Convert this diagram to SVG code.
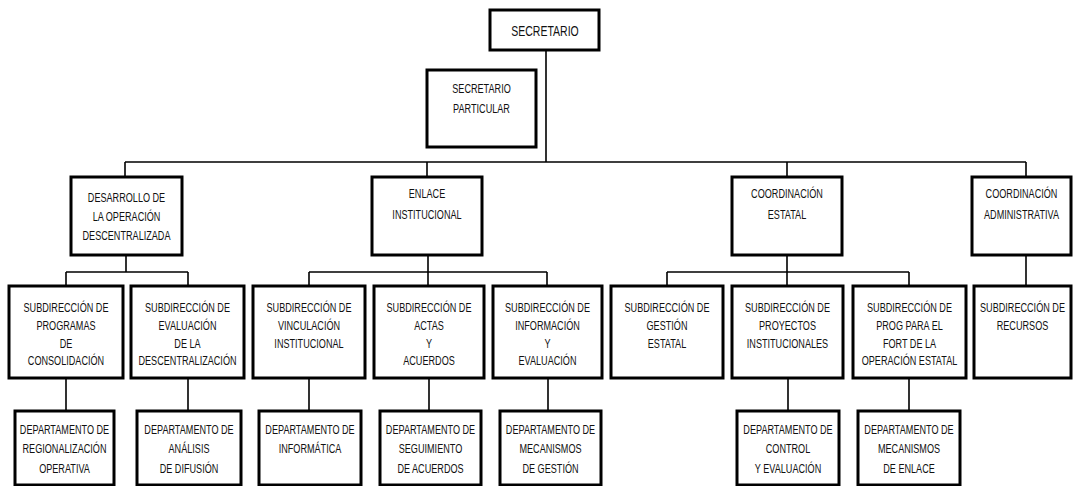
<svg xmlns="http://www.w3.org/2000/svg" width="1073" height="486" viewBox="0 0 1073 486">
  <style>
    .box { fill: #ffffff; stroke: #000000; stroke-width: 3; }
    .lnk { fill: none; stroke: #000000; stroke-width: 1.6; }
    .t { font-family: "Liberation Sans", Arial, sans-serif; font-size: 13px; fill: #111111; text-anchor: middle; }
    .big { font-size: 15px; }
  </style>
  <rect width="1073" height="486" fill="#ffffff"/>

  <!-- connectors -->
  <g id="connectors" class="lnk">
    <path d="M546 50V162M125 162H1026M125 162V177M427 162V177M787 162V177M1026 162V177"/>
    <path d="M126 255V272M66 272H188M66 272V286M188 272V286"/>
    <path d="M428 255V272M309 272H547M309 272V286M428 272V286M547 272V286"/>
    <path d="M787 255V286M667 272H909M667 272V286M909 272V286"/>
    <path d="M1026 255V286"/>
    <path d="M66 378V411M188 378V411M309 378V411M429 378V411M548 378V411M788 378V411M909 378V411"/>
  </g>

  <!-- level 0 -->
  <g id="secretario">
    <rect class="box" x="490" y="10" width="109" height="40"/>
    <text class="t big" transform="matrix(0.7 0 0 1 545 0)"><tspan x="0" y="36">SECRETARIO</tspan></text>
  </g>
  <g id="secretario-particular">
    <rect class="box" x="427" y="70" width="109" height="77"/>
    <text class="t" transform="matrix(0.7 0 0 1 481.5 0)"><tspan x="0" y="93">SECRETARIO</tspan><tspan x="0" y="113">PARTICULAR</tspan></text>
  </g>

  <!-- level 1 -->
  <g id="desarrollo">
    <rect class="box" x="71" y="177" width="111" height="78"/>
    <text class="t" transform="matrix(0.7 0 0 1 126.5 0)"><tspan x="0" y="202">DESARROLLO DE</tspan><tspan x="0" y="221">LA OPERACIÓN</tspan><tspan x="0" y="240">DESCENTRALIZADA</tspan></text>
  </g>
  <g id="enlace">
    <rect class="box" x="372" y="177" width="110" height="78"/>
    <text class="t" transform="matrix(0.7 0 0 1 427 0)"><tspan x="0" y="198">ENLACE</tspan><tspan x="0" y="219">INSTITUCIONAL</tspan></text>
  </g>
  <g id="coord-estatal">
    <rect class="box" x="732" y="177" width="110" height="78"/>
    <text class="t" transform="matrix(0.7 0 0 1 787 0)"><tspan x="0" y="198">COORDINACIÓN</tspan><tspan x="0" y="219">ESTATAL</tspan></text>
  </g>
  <g id="coord-admin">
    <rect class="box" x="972" y="177" width="99" height="78"/>
    <text class="t" transform="matrix(0.7 0 0 1 1021.5 0)"><tspan x="0" y="198">COORDINACIÓN</tspan><tspan x="0" y="219">ADMINISTRATIVA</tspan></text>
  </g>

  <!-- level 2 -->
  <g id="sub-programas">
    <rect class="box" x="9" y="286" width="114" height="92"/>
    <text class="t" transform="matrix(0.7 0 0 1 66 0)"><tspan x="0" y="312">SUBDIRECCIÓN DE</tspan><tspan x="0" y="330">PROGRAMAS</tspan><tspan x="0" y="348">DE</tspan><tspan x="0" y="365">CONSOLIDACIÓN</tspan></text>
  </g>
  <g id="sub-evaluacion">
    <rect class="box" x="131" y="286" width="113" height="92"/>
    <text class="t" transform="matrix(0.7 0 0 1 187.5 0)"><tspan x="0" y="312">SUBDIRECCIÓN DE</tspan><tspan x="0" y="330">EVALUACIÓN</tspan><tspan x="0" y="348">DE LA</tspan><tspan x="0" y="365">DESCENTRALIZACIÓN</tspan></text>
  </g>
  <g id="sub-vinculacion">
    <rect class="box" x="253" y="286" width="112" height="92"/>
    <text class="t" transform="matrix(0.7 0 0 1 309 0)"><tspan x="0" y="312">SUBDIRECCIÓN DE</tspan><tspan x="0" y="330">VINCULACIÓN</tspan><tspan x="0" y="348">INSTITUCIONAL</tspan></text>
  </g>
  <g id="sub-actas">
    <rect class="box" x="374" y="286" width="110" height="92"/>
    <text class="t" transform="matrix(0.7 0 0 1 429 0)"><tspan x="0" y="312">SUBDIRECCIÓN DE</tspan><tspan x="0" y="330">ACTAS</tspan><tspan x="0" y="348">Y</tspan><tspan x="0" y="365">ACUERDOS</tspan></text>
  </g>
  <g id="sub-informacion">
    <rect class="box" x="493" y="286" width="109" height="92"/>
    <text class="t" transform="matrix(0.7 0 0 1 547.5 0)"><tspan x="0" y="312">SUBDIRECCIÓN DE</tspan><tspan x="0" y="330">INFORMACIÓN</tspan><tspan x="0" y="348">Y</tspan><tspan x="0" y="365">EVALUACIÓN</tspan></text>
  </g>
  <g id="sub-gestion">
    <rect class="box" x="611" y="286" width="112" height="92"/>
    <text class="t" transform="matrix(0.7 0 0 1 667 0)"><tspan x="0" y="312">SUBDIRECCIÓN DE</tspan><tspan x="0" y="330">GESTIÓN</tspan><tspan x="0" y="348">ESTATAL</tspan></text>
  </g>
  <g id="sub-proyectos">
    <rect class="box" x="732" y="286" width="111" height="92"/>
    <text class="t" transform="matrix(0.7 0 0 1 787.5 0)"><tspan x="0" y="312">SUBDIRECCIÓN DE</tspan><tspan x="0" y="330">PROYECTOS</tspan><tspan x="0" y="348">INSTITUCIONALES</tspan></text>
  </g>
  <g id="sub-prog-fort">
    <rect class="box" x="853" y="286" width="113" height="92"/>
    <text class="t" transform="matrix(0.7 0 0 1 909.5 0)"><tspan x="0" y="312">SUBDIRECCIÓN DE</tspan><tspan x="0" y="330">PROG PARA EL</tspan><tspan x="0" y="348">FORT DE LA</tspan><tspan x="0" y="365">OPERACIÓN ESTATAL</tspan></text>
  </g>
  <g id="sub-recursos">
    <rect class="box" x="974" y="286" width="97" height="92"/>
    <text class="t" transform="matrix(0.7 0 0 1 1022.5 0)"><tspan x="0" y="312">SUBDIRECCIÓN DE</tspan><tspan x="0" y="330">RECURSOS</tspan></text>
  </g>

  <!-- level 3 -->
  <g id="dep-regionalizacion">
    <rect class="box" x="15" y="411" width="99" height="74"/>
    <text class="t" transform="matrix(0.7 0 0 1 64.5 0)"><tspan x="0" y="434">DEPARTAMENTO DE</tspan><tspan x="0" y="453.5">REGIONALIZACIÓN</tspan><tspan x="0" y="473">OPERATIVA</tspan></text>
  </g>
  <g id="dep-analisis">
    <rect class="box" x="137" y="411" width="104" height="74"/>
    <text class="t" transform="matrix(0.7 0 0 1 189 0)"><tspan x="0" y="434">DEPARTAMENTO DE</tspan><tspan x="0" y="453.5">ANÁLISIS</tspan><tspan x="0" y="473">DE DIFUSIÓN</tspan></text>
  </g>
  <g id="dep-informatica">
    <rect class="box" x="259" y="411" width="102" height="74"/>
    <text class="t" transform="matrix(0.7 0 0 1 310 0)"><tspan x="0" y="434">DEPARTAMENTO DE</tspan><tspan x="0" y="453.5">INFORMÁTICA</tspan></text>
  </g>
  <g id="dep-seguimiento">
    <rect class="box" x="380" y="411" width="101" height="74"/>
    <text class="t" transform="matrix(0.7 0 0 1 430.5 0)"><tspan x="0" y="434">DEPARTAMENTO DE</tspan><tspan x="0" y="453.5">SEGUIMIENTO</tspan><tspan x="0" y="473">DE ACUERDOS</tspan></text>
  </g>
  <g id="dep-mecanismos-gestion">
    <rect class="box" x="500" y="411" width="101" height="74"/>
    <text class="t" transform="matrix(0.7 0 0 1 550.5 0)"><tspan x="0" y="434">DEPARTAMENTO DE</tspan><tspan x="0" y="453.5">MECANISMOS</tspan><tspan x="0" y="473">DE GESTIÓN</tspan></text>
  </g>
  <g id="dep-control">
    <rect class="box" x="737" y="411" width="102" height="74"/>
    <text class="t" transform="matrix(0.7 0 0 1 788 0)"><tspan x="0" y="434">DEPARTAMENTO DE</tspan><tspan x="0" y="453.5">CONTROL</tspan><tspan x="0" y="473">Y EVALUACIÓN</tspan></text>
  </g>
  <g id="dep-mecanismos-enlace">
    <rect class="box" x="858" y="411" width="102" height="74"/>
    <text class="t" transform="matrix(0.7 0 0 1 909 0)"><tspan x="0" y="434">DEPARTAMENTO DE</tspan><tspan x="0" y="453.5">MECANISMOS</tspan><tspan x="0" y="473">DE ENLACE</tspan></text>
  </g>
</svg>
